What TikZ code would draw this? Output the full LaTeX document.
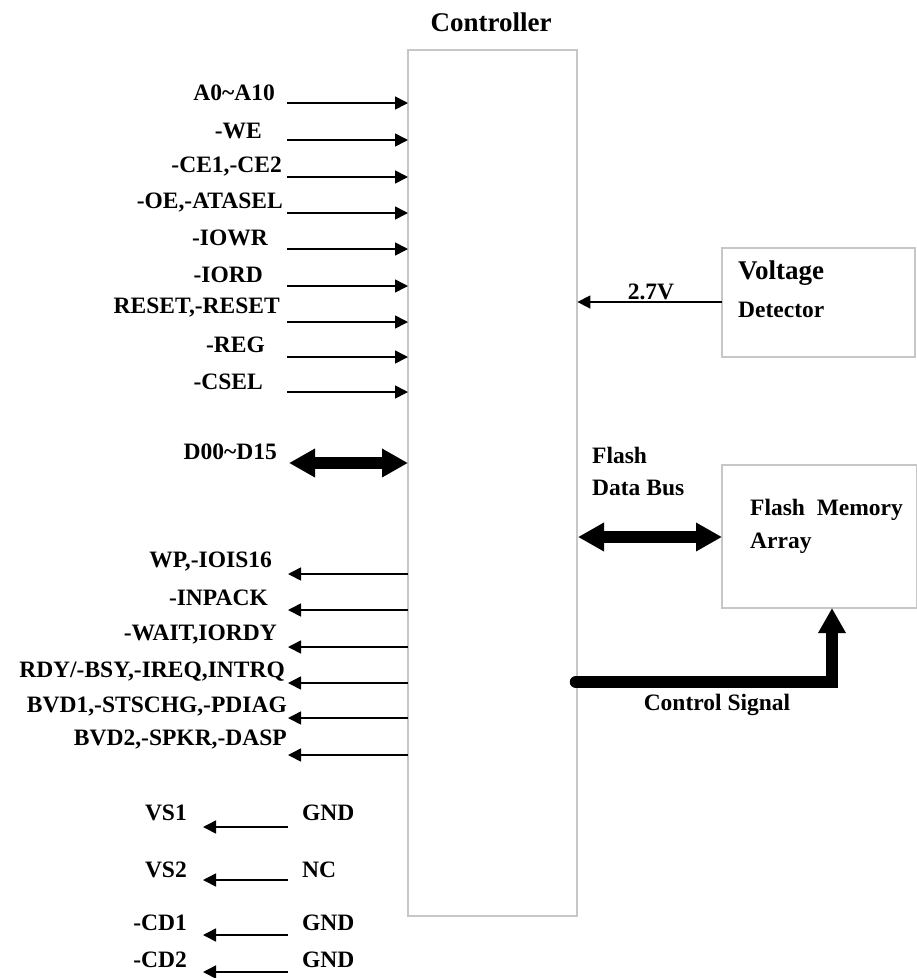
\documentclass[tikz,border=0pt]{standalone}
\usepackage{fontspec}
\setmainfont{Liberation Serif}
\usetikzlibrary{arrows.meta}
\begin{document}
\begin{tikzpicture}[x=1pt,y=-1pt,
  lbl/.style={inner sep=0pt,font=\fontsize{23.5}{26}\selectfont\bfseries},
  big/.style={inner sep=0pt,font=\fontsize{27}{30}\selectfont\bfseries},
  box/.style={draw=black!22,line width=1.8pt},
  sig/.style={line width=1.6pt,-{Triangle[length=13pt,width=13pt]}},
  bus/.style={line width=12pt,{Triangle[length=26pt,width=27pt]}-{Triangle[length=26pt,width=27pt]}},
  ctl/.style={line width=12.5pt,line cap=round,line join=miter,-{Triangle[length=25pt,width=26pt]}}]
\useasboundingbox (0,0) rectangle (917,978);
% boxes
\draw[box] (408,50) rectangle (577,916);
\node[inner sep=0pt,minimum width=169pt,minimum height=866pt,anchor=north west] (ctrl) at (408,50) {};
\node[big] (title) at (491,22) {Controller};
\draw[box] (722,248) rectangle (915,357);
\node[inner sep=0pt,minimum width=193pt,minimum height=109pt,anchor=north west] (vd) at (722,248) {};
\node[big,anchor=west] (vdt1) at (738,273) {Voltage};
\node[lbl,anchor=west] (vdt2) at (738,310) {Detector};
\draw[box] (722,465) rectangle (917,608);
\node[inner sep=0pt,minimum width=195pt,minimum height=143pt,anchor=north west] (fm) at (722,465) {};
\node[lbl,anchor=west] (fmt1) at (750,510) {Flash\ \ Memory};
\node[lbl,anchor=west] (fmt2) at (750,543) {Array};
% inputs
\foreach \n/\t/\x/\ty/\ay in {a/{A0\textasciitilde A10}/275/93/103,
  b/{-WE}/262/131/140, c/{-CE1,-CE2}/282/167/177, d/{-OE,-ATASEL}/283/203/213,
  e/{-IOWR}/268/238/249, f/{-IORD}/263/275/286, g/{RESET,-RESET}/280/308/322,
  h/{-REG}/265/345/357, i/{-CSEL}/263/382/392}{
  \node[lbl,anchor=east] (in\n) at (\x,\ty) {\t};
  \coordinate (s\n) at (287,\ay);
  \draw[sig] (s\n) -- (ctrl.west |- s\n);
}
% data bus
\node[lbl,anchor=east] (dbus) at (277,452) {D00\textasciitilde D15};
\coordinate (dl) at (289,463);
\draw[bus] (dl) -- (ctrl.west |- dl);
% outputs
\foreach \n/\t/\x/\ty/\ay in {a/{WP,-IOIS16}/272/562/574, b/{-INPACK}/268/598/610,
  c/{-WAIT,IORDY}/277/635/647, d/{RDY/-BSY,-IREQ,INTRQ}/285/672/683,
  e/{BVD1,-STSCHG,-PDIAG}/287/707/718, f/{BVD2,-SPKR,-DASP}/287/740/755}{
  \node[lbl,anchor=east] (out\n) at (\x,\ty) {\t};
  \coordinate (o\n) at (288,\ay);
  \draw[sig] (ctrl.west |- o\n) -- (o\n);
}
% VS / CD
\foreach \n/\l/\r/\ty/\ay in {a/{VS1}/{GND}/813/827, b/{VS2}/{NC}/870/880,
  c/{-CD1}/{GND}/923/935, d/{-CD2}/{GND}/960/972}{
  \node[lbl,anchor=east] (vl\n) at (187,\ty) {\l};
  \node[lbl,anchor=west] (vr\n) at (302,\ty) {\r};
  \coordinate (vs\n) at (288,\ay);
  \coordinate (ve\n) at (203,\ay);
  \draw[sig] (vs\n) -- (ve\n);
}
% right side
\node[lbl] (v27) at (651,292) {2.7V};
\coordinate (vdin) at (722,302);
\draw[sig] (vdin) -- (ctrl.east |- vdin);
\node[lbl,anchor=west] (fl1) at (592,455) {Flash};
\node[lbl,anchor=west] (fl2) at (592,488) {Data Bus};
\coordinate (fb) at (578,537);
\draw[bus] (fb) -- (fm.west |- fb);
\coordinate (cs) at (576,682);
\coordinate (csu) at (832,608);
\draw[ctl] (cs) -| (csu);
\node[lbl] (cst) at (717,705) {Control Signal};
\end{tikzpicture}
\end{document}
